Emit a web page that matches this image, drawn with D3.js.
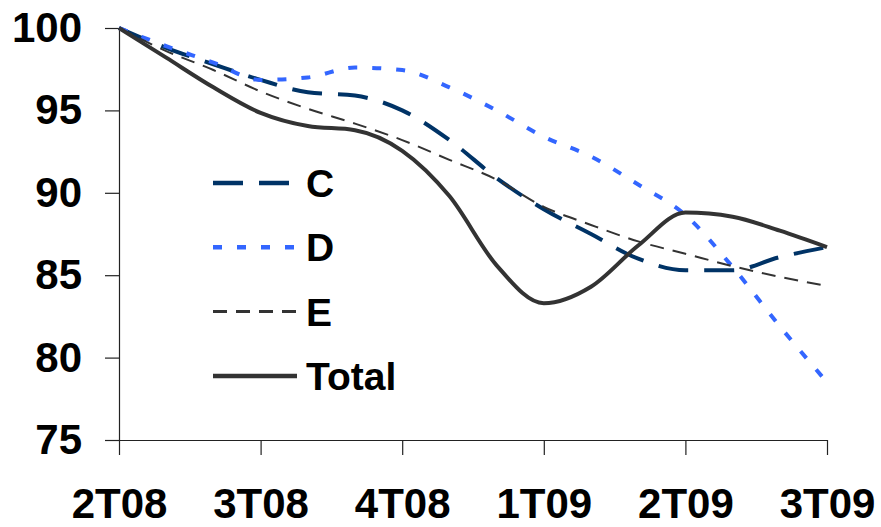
<!DOCTYPE html>
<html>
<head>
<meta charset="utf-8">
<script src="https://cdn.jsdelivr.net/npm/d3@7"></script>
<style>
  body { margin: 0; background: #fff; }
  text { font-family: "Liberation Sans", Arial, sans-serif; font-weight: bold; }
</style>
</head>
<body>
<div id="chart"></div>
<script>
// quarter labels on the x axis, one every 3 months
const quarters = ["2T08", "3T08", "4T08", "1T09", "2T09", "3T09"];
const yTicks = [75, 80, 85, 90, 95, 100];

// monthly index values (base 100)
const serieC = [100, 98.8, 97.8, 96.85, 96.1, 95.9, 95.0, 93.2, 90.9, 89.0, 87.5, 86.0, 85.3, 85.3, 86.1, 86.7];
const serieD = [100, 98.9, 97.9, 96.85, 97.0, 97.6, 97.45, 96.4, 95.0, 93.4, 92.2, 90.5, 88.65, 85.5, 81.9, 78.5];
const serieE = [100, 98.6, 97.45, 96.15, 95.1, 94.2, 93.2, 92.0, 90.8, 89.15, 88.05, 87.05, 86.3, 85.55, 84.9, 84.35];
const serieTotal = [100, 98.2, 96.4, 94.85, 94.05, 93.8, 92.55, 89.8, 85.6, 83.3, 84.3, 86.8, 88.8, 88.55, 87.7, 86.7];

const series = [
    {name: "C", values: serieC, color: "#003366", width: 4, dash: "30,16"},
    {name: "D", values: serieD, color: "#3366ff", width: 4, dash: "9,15"},
    {name: "E", values: serieE, color: "#333333", width: 2, dash: "14,9"},
    {name: "Total", values: serieTotal, color: "#333333", width: 4, dash: null}
];

const W = 881, H = 527;
const mLeft = 119, mRight = 827, mTop = 28, mBottom = 440;

const svg = d3.select("#chart")
    .append("svg")
    .attr("width", W)
    .attr("height", H);

const x = d3.scaleLinear()
    .domain([0, serieC.length - 1])
    .range([mLeft, mRight]);
const y = d3.scaleLinear()
    .domain([75, 100])
    .range([mBottom, mTop]);

// axes
const xAxis = d3.axisBottom(x)
    .tickValues(quarters.map((q, i) => i * 3))
    .tickFormat((d, i) => quarters[i])
    .tickSize(15)
    .tickSizeOuter(0)
    .tickPadding(33);
const yAxis = d3.axisLeft(y)
    .tickValues(yTicks)
    .tickSize(14)
    .tickSizeOuter(0)
    .tickPadding(23);

const gx = svg.append("g")
    .attr("transform", `translate(0,${mBottom})`)
    .call(xAxis);
gx.selectAll("text")
    .style("font-size", "42px")
    .attr("fill", "#000");

const gy = svg.append("g")
    .attr("transform", `translate(${mLeft},0)`)
    .call(yAxis);
gy.selectAll("text")
    .style("font-size", "42px")
    .attr("fill", "#000");

svg.selectAll(".domain, .tick line").attr("stroke", "#222").attr("stroke-width", 1.2);

// lines
const line = d3.line()
    .x((d, i) => x(i))
    .y(d => y(d))
    .curve(d3.curveMonotoneX);

svg.append("g")
    .selectAll("path")
    .data(series)
    .join("path")
    .attr("d", d => line(d.values))
    .attr("fill", "none")
    .attr("stroke", d => d.color)
    .attr("stroke-width", d => d.width)
    .attr("stroke-dasharray", d => d.dash)
    .attr("stroke-linejoin", "round");

// legend
const legend = svg.append("g");
series.forEach(function (s, i) {
    const ly = 183 + i * 64.3;
    legend.append("line")
        .attr("x1", 213).attr("x2", 297)
        .attr("y1", ly).attr("y2", ly)
        .attr("stroke", s.color)
        .attr("stroke-width", s.width === 2 ? 3 : 4.5)
        .attr("stroke-dasharray", s.dash);
    legend.append("text")
        .attr("x", 306)
        .attr("y", ly + 14)
        .text(s.name)
        .style("font-size", "39px")
        .attr("fill", "#000");
});
</script>
</body>
</html>
